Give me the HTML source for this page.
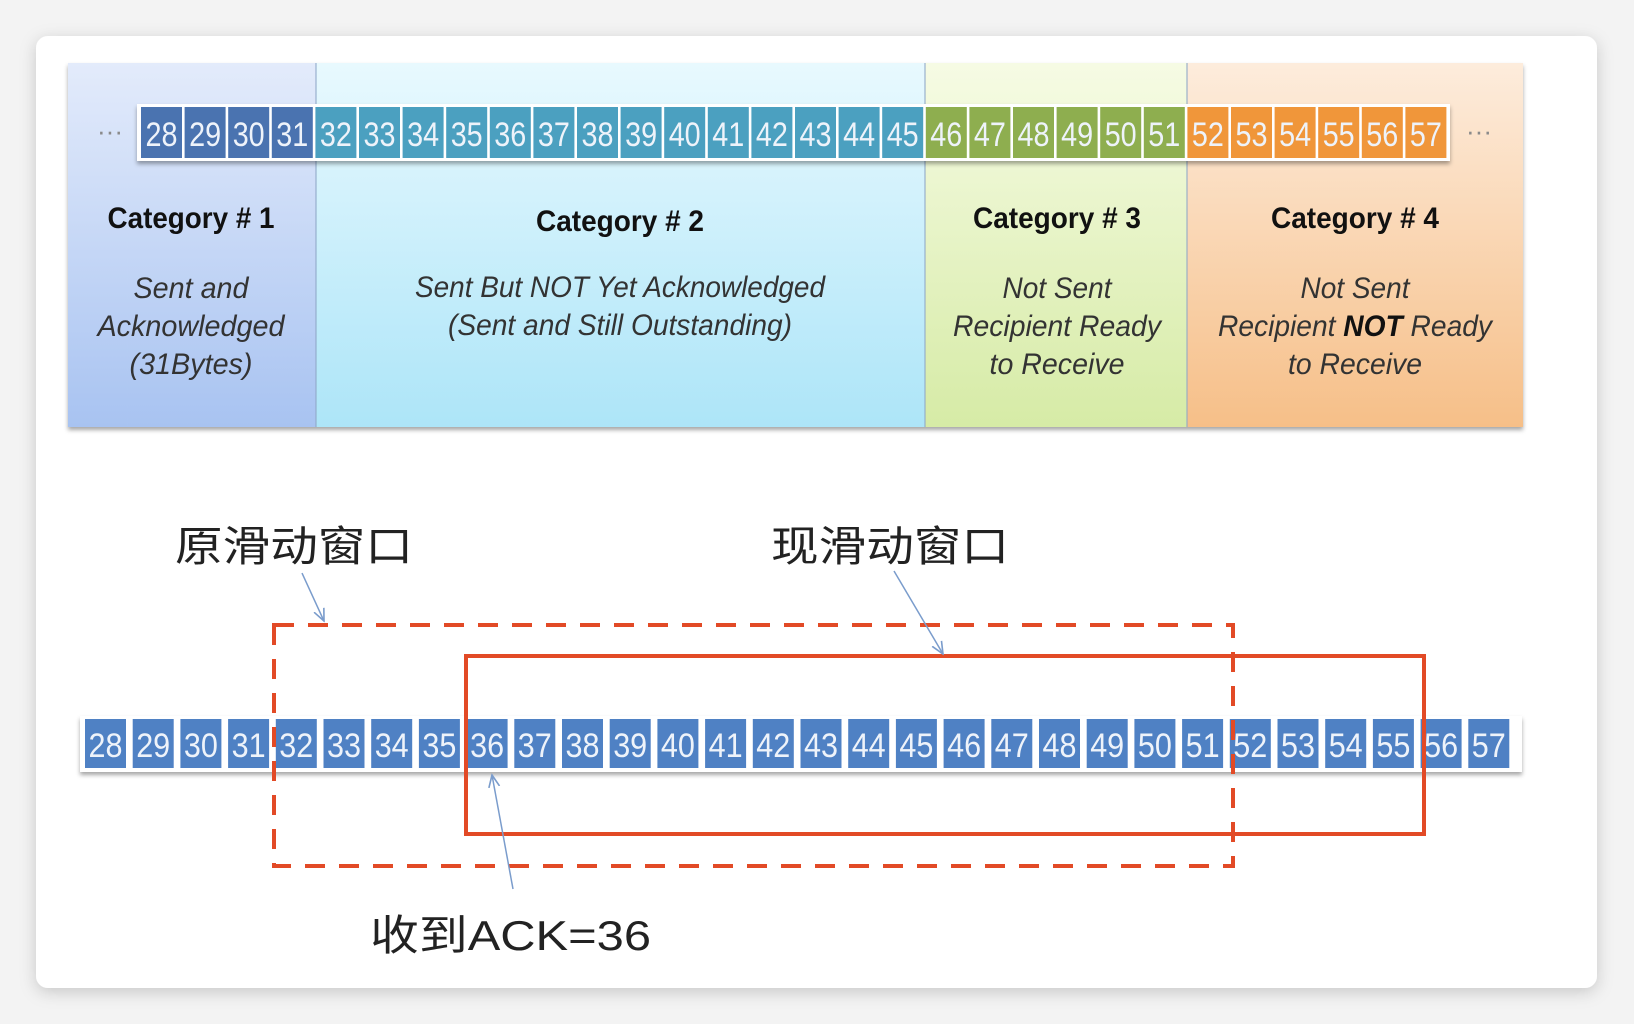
<!DOCTYPE html>
<html><head><meta charset="utf-8"><style>
html,body{margin:0;padding:0;background:#f4f4f4;width:1634px;height:1024px;overflow:hidden}
</style></head><body>
<svg width="1634" height="1024" viewBox="0 0 1634 1024" xmlns="http://www.w3.org/2000/svg">
<defs>
<filter id="sh" x="-5%" y="-5%" width="110%" height="115%"><feDropShadow dx="0" dy="4" stdDeviation="8" flood-color="#000" flood-opacity="0.18"/></filter>
<filter id="sh2" x="-5%" y="-20%" width="110%" height="160%"><feDropShadow dx="0" dy="3" stdDeviation="2" flood-color="#000" flood-opacity="0.35"/></filter>
<linearGradient id="g1" x1="0" y1="0" x2="0" y2="1"><stop offset="0" stop-color="#e3ebfb"/><stop offset="1" stop-color="#a8c3f1"/></linearGradient>
<linearGradient id="g2" x1="0" y1="0" x2="0" y2="1"><stop offset="0" stop-color="#e8f9fe"/><stop offset="1" stop-color="#ade5f8"/></linearGradient>
<linearGradient id="g3" x1="0" y1="0" x2="0" y2="1"><stop offset="0" stop-color="#f6fbe4"/><stop offset="1" stop-color="#d6eba6"/></linearGradient>
<linearGradient id="g4" x1="0" y1="0" x2="0" y2="1"><stop offset="0" stop-color="#fdecdc"/><stop offset="1" stop-color="#f6bf88"/></linearGradient>
<marker id="ar" viewBox="0 0 10 10" refX="9" refY="5" markerWidth="9" markerHeight="9" orient="auto"><path d="M0,1 L9,5 L0,9" fill="none" stroke="#7a9ccc" stroke-width="1.2"/></marker>
</defs>
<rect x="0" y="0" width="1634" height="1024" fill="#f3f3f3"/>
<rect x="36" y="36" width="1561" height="952" rx="12" fill="#fff" filter="url(#sh)"/>

<!-- top diagram -->
<g filter="url(#sh2)">
<rect x="68" y="63" width="248" height="364" fill="url(#g1)"/>
<rect x="316" y="63" width="609" height="364" fill="url(#g2)"/>
<rect x="925" y="63" width="262" height="364" fill="url(#g3)"/>
<rect x="1187" y="63" width="336" height="364" fill="url(#g4)"/>
</g>
<g stroke="#8fa8c8" stroke-width="1.5" opacity="0.7">
<line x1="316" y1="63" x2="316" y2="427"/><line x1="925" y1="63" x2="925" y2="427"/><line x1="1187" y1="63" x2="1187" y2="427"/>
</g>
<rect x="137" y="104" width="1313" height="57" fill="#fff" filter="url(#sh2)"/>
<g font-family="Liberation Sans Narrow, Liberation Sans, sans-serif" font-size="34" text-anchor="middle">
<g fill="#4a73b0"><rect x="141" y="107" width="41" height="51"/><rect x="184.6" y="107" width="41" height="51"/><rect x="228.2" y="107" width="41" height="51"/><rect x="271.8" y="107" width="41" height="51"/></g>
<g fill="#4ba0c0"><rect x="315.4" y="107" width="41" height="51"/><rect x="359" y="107" width="41" height="51"/><rect x="402.6" y="107" width="41" height="51"/><rect x="446.2" y="107" width="41" height="51"/><rect x="489.8" y="107" width="41" height="51"/><rect x="533.4" y="107" width="41" height="51"/><rect x="577" y="107" width="41" height="51"/><rect x="620.6" y="107" width="41" height="51"/><rect x="664.2" y="107" width="41" height="51"/><rect x="707.8" y="107" width="41" height="51"/><rect x="751.4" y="107" width="41" height="51"/><rect x="795" y="107" width="41" height="51"/><rect x="838.6" y="107" width="41" height="51"/><rect x="882.2" y="107" width="41" height="51"/></g>
<g fill="#8eae4f"><rect x="925.8" y="107" width="41" height="51"/><rect x="969.4" y="107" width="41" height="51"/><rect x="1013" y="107" width="41" height="51"/><rect x="1056.6" y="107" width="41" height="51"/><rect x="1100.2" y="107" width="41" height="51"/><rect x="1143.8" y="107" width="41" height="51"/></g>
<g fill="#f0963a"><rect x="1187.4" y="107" width="41" height="51"/><rect x="1231" y="107" width="41" height="51"/><rect x="1274.6" y="107" width="41" height="51"/><rect x="1318.2" y="107" width="41" height="51"/><rect x="1361.8" y="107" width="41" height="51"/><rect x="1405.4" y="107" width="41" height="51"/></g>
<g fill="#eef3fa">
<text x="161.5" y="146" textLength="32" lengthAdjust="spacingAndGlyphs">28</text><text x="205.1" y="146" textLength="32" lengthAdjust="spacingAndGlyphs">29</text><text x="248.7" y="146" textLength="32" lengthAdjust="spacingAndGlyphs">30</text><text x="292.3" y="146" textLength="32" lengthAdjust="spacingAndGlyphs">31</text>
<text x="335.9" y="146" textLength="32" lengthAdjust="spacingAndGlyphs">32</text><text x="379.5" y="146" textLength="32" lengthAdjust="spacingAndGlyphs">33</text><text x="423.1" y="146" textLength="32" lengthAdjust="spacingAndGlyphs">34</text><text x="466.7" y="146" textLength="32" lengthAdjust="spacingAndGlyphs">35</text><text x="510.3" y="146" textLength="32" lengthAdjust="spacingAndGlyphs">36</text><text x="553.9" y="146" textLength="32" lengthAdjust="spacingAndGlyphs">37</text><text x="597.5" y="146" textLength="32" lengthAdjust="spacingAndGlyphs">38</text><text x="641.1" y="146" textLength="32" lengthAdjust="spacingAndGlyphs">39</text><text x="684.7" y="146" textLength="32" lengthAdjust="spacingAndGlyphs">40</text><text x="728.3" y="146" textLength="32" lengthAdjust="spacingAndGlyphs">41</text><text x="771.9" y="146" textLength="32" lengthAdjust="spacingAndGlyphs">42</text><text x="815.5" y="146" textLength="32" lengthAdjust="spacingAndGlyphs">43</text><text x="859.1" y="146" textLength="32" lengthAdjust="spacingAndGlyphs">44</text><text x="902.7" y="146" textLength="32" lengthAdjust="spacingAndGlyphs">45</text>
<text x="946.3" y="146" textLength="32" lengthAdjust="spacingAndGlyphs">46</text><text x="989.9" y="146" textLength="32" lengthAdjust="spacingAndGlyphs">47</text><text x="1033.5" y="146" textLength="32" lengthAdjust="spacingAndGlyphs">48</text><text x="1077.1" y="146" textLength="32" lengthAdjust="spacingAndGlyphs">49</text><text x="1120.7" y="146" textLength="32" lengthAdjust="spacingAndGlyphs">50</text><text x="1164.3" y="146" textLength="32" lengthAdjust="spacingAndGlyphs">51</text>
<text x="1207.9" y="146" textLength="32" lengthAdjust="spacingAndGlyphs">52</text><text x="1251.5" y="146" textLength="32" lengthAdjust="spacingAndGlyphs">53</text><text x="1295.1" y="146" textLength="32" lengthAdjust="spacingAndGlyphs">54</text><text x="1338.7" y="146" textLength="32" lengthAdjust="spacingAndGlyphs">55</text><text x="1382.3" y="146" textLength="32" lengthAdjust="spacingAndGlyphs">56</text><text x="1425.9" y="146" textLength="32" lengthAdjust="spacingAndGlyphs">57</text>
</g>
</g>
<g fill="#8a8a8a" font-family="Liberation Sans, sans-serif" font-size="26" text-anchor="middle">
<text x="110" y="140">···</text><text x="1479" y="140">···</text>
</g>

<g font-family="Liberation Sans Narrow, Liberation Sans, sans-serif" text-anchor="middle" fill="#111">
<g font-size="30" font-weight="bold">
<text x="191" y="228" textLength="167" lengthAdjust="spacingAndGlyphs">Category # 1</text>
<text x="620" y="231" textLength="168" lengthAdjust="spacingAndGlyphs">Category # 2</text>
<text x="1057" y="228" textLength="168" lengthAdjust="spacingAndGlyphs">Category # 3</text>
<text x="1355" y="228" textLength="168" lengthAdjust="spacingAndGlyphs">Category # 4</text>
</g>
<g font-size="30" font-style="italic" fill="#333">
<text x="191" y="298" textLength="115" lengthAdjust="spacingAndGlyphs">Sent and</text>
<text x="191" y="336" textLength="187" lengthAdjust="spacingAndGlyphs">Acknowledged</text>
<text x="191" y="374" textLength="123" lengthAdjust="spacingAndGlyphs">(31Bytes)</text>
<text x="620" y="297" textLength="410" lengthAdjust="spacingAndGlyphs">Sent But NOT Yet Acknowledged</text>
<text x="620" y="335" textLength="344" lengthAdjust="spacingAndGlyphs">(Sent and Still Outstanding)</text>
<text x="1057" y="298" textLength="109" lengthAdjust="spacingAndGlyphs">Not Sent</text>
<text x="1057" y="336" textLength="208" lengthAdjust="spacingAndGlyphs">Recipient Ready</text>
<text x="1057" y="374" textLength="135" lengthAdjust="spacingAndGlyphs">to Receive</text>
<text x="1355" y="298" textLength="109" lengthAdjust="spacingAndGlyphs">Not Sent</text>
<text x="1355" y="336" textLength="274" lengthAdjust="spacingAndGlyphs">Recipient <tspan font-weight="bold" fill="#111">NOT</tspan> Ready</text>
<text x="1355" y="374" textLength="134" lengthAdjust="spacingAndGlyphs">to Receive</text>
</g>
</g>

<!-- bottom -->
<rect x="80" y="716" width="1442" height="56" fill="#fff" filter="url(#sh2)"/>
<g fill="#4f81c4">
<rect x="85" y="719" width="41" height="49"/><rect x="132.7" y="719" width="41" height="49"/><rect x="180.4" y="719" width="41" height="49"/><rect x="228.1" y="719" width="41" height="49"/><rect x="275.8" y="719" width="41" height="49"/><rect x="323.5" y="719" width="41" height="49"/><rect x="371.2" y="719" width="41" height="49"/><rect x="418.9" y="719" width="41" height="49"/><rect x="466.6" y="719" width="41" height="49"/><rect x="514.3" y="719" width="41" height="49"/><rect x="562" y="719" width="41" height="49"/><rect x="609.7" y="719" width="41" height="49"/><rect x="657.4" y="719" width="41" height="49"/><rect x="705.1" y="719" width="41" height="49"/><rect x="752.8" y="719" width="41" height="49"/><rect x="800.5" y="719" width="41" height="49"/><rect x="848.2" y="719" width="41" height="49"/><rect x="895.9" y="719" width="41" height="49"/><rect x="943.6" y="719" width="41" height="49"/><rect x="991.3" y="719" width="41" height="49"/><rect x="1039" y="719" width="41" height="49"/><rect x="1086.7" y="719" width="41" height="49"/><rect x="1134.4" y="719" width="41" height="49"/><rect x="1182.1" y="719" width="41" height="49"/><rect x="1229.8" y="719" width="41" height="49"/><rect x="1277.5" y="719" width="41" height="49"/><rect x="1325.2" y="719" width="41" height="49"/><rect x="1372.9" y="719" width="41" height="49"/><rect x="1420.6" y="719" width="41" height="49"/><rect x="1468.3" y="719" width="41" height="49"/>
</g>
<g fill="#eef3fa" font-family="Liberation Sans Narrow, Liberation Sans, sans-serif" font-size="34" text-anchor="middle">
<text x="105.5" y="757" textLength="34" lengthAdjust="spacingAndGlyphs">28</text><text x="153.2" y="757" textLength="34" lengthAdjust="spacingAndGlyphs">29</text><text x="200.9" y="757" textLength="34" lengthAdjust="spacingAndGlyphs">30</text><text x="248.6" y="757" textLength="34" lengthAdjust="spacingAndGlyphs">31</text><text x="296.3" y="757" textLength="34" lengthAdjust="spacingAndGlyphs">32</text><text x="344" y="757" textLength="34" lengthAdjust="spacingAndGlyphs">33</text><text x="391.7" y="757" textLength="34" lengthAdjust="spacingAndGlyphs">34</text><text x="439.4" y="757" textLength="34" lengthAdjust="spacingAndGlyphs">35</text><text x="487.1" y="757" textLength="34" lengthAdjust="spacingAndGlyphs">36</text><text x="534.8" y="757" textLength="34" lengthAdjust="spacingAndGlyphs">37</text><text x="582.5" y="757" textLength="34" lengthAdjust="spacingAndGlyphs">38</text><text x="630.2" y="757" textLength="34" lengthAdjust="spacingAndGlyphs">39</text><text x="677.9" y="757" textLength="34" lengthAdjust="spacingAndGlyphs">40</text><text x="725.6" y="757" textLength="34" lengthAdjust="spacingAndGlyphs">41</text><text x="773.3" y="757" textLength="34" lengthAdjust="spacingAndGlyphs">42</text><text x="821" y="757" textLength="34" lengthAdjust="spacingAndGlyphs">43</text><text x="868.7" y="757" textLength="34" lengthAdjust="spacingAndGlyphs">44</text><text x="916.4" y="757" textLength="34" lengthAdjust="spacingAndGlyphs">45</text><text x="964.1" y="757" textLength="34" lengthAdjust="spacingAndGlyphs">46</text><text x="1011.8" y="757" textLength="34" lengthAdjust="spacingAndGlyphs">47</text><text x="1059.5" y="757" textLength="34" lengthAdjust="spacingAndGlyphs">48</text><text x="1107.2" y="757" textLength="34" lengthAdjust="spacingAndGlyphs">49</text><text x="1154.9" y="757" textLength="34" lengthAdjust="spacingAndGlyphs">50</text><text x="1202.6" y="757" textLength="34" lengthAdjust="spacingAndGlyphs">51</text><text x="1250.3" y="757" textLength="34" lengthAdjust="spacingAndGlyphs">52</text><text x="1298" y="757" textLength="34" lengthAdjust="spacingAndGlyphs">53</text><text x="1345.7" y="757" textLength="34" lengthAdjust="spacingAndGlyphs">54</text><text x="1393.4" y="757" textLength="34" lengthAdjust="spacingAndGlyphs">55</text><text x="1441.1" y="757" textLength="34" lengthAdjust="spacingAndGlyphs">56</text><text x="1488.8" y="757" textLength="34" lengthAdjust="spacingAndGlyphs">57</text>
</g>

<rect x="274" y="625" width="959" height="241" fill="none" stroke="#e24a26" stroke-width="4" stroke-dasharray="20,14"/>
<rect x="466" y="656" width="958" height="178" fill="none" stroke="#e24a26" stroke-width="4"/>

<g stroke="#7a9ccc" stroke-width="1.5" fill="none" marker-end="url(#ar)">
<line x1="302" y1="573" x2="324" y2="621"/>
<line x1="894" y1="571" x2="943" y2="654"/>
<line x1="513" y1="889" x2="492" y2="775"/>
</g>

<g font-family="Liberation Sans, Noto Sans CJK SC, sans-serif" fill="#222" font-size="42">
<text x="175" y="561" textLength="238" lengthAdjust="spacingAndGlyphs">原滑动窗口</text>
<text x="771" y="561" textLength="238" lengthAdjust="spacingAndGlyphs">现滑动窗口</text>
<text x="370" y="950" textLength="281" lengthAdjust="spacingAndGlyphs">收到ACK=36</text>
</g>
</svg>
</body></html>
